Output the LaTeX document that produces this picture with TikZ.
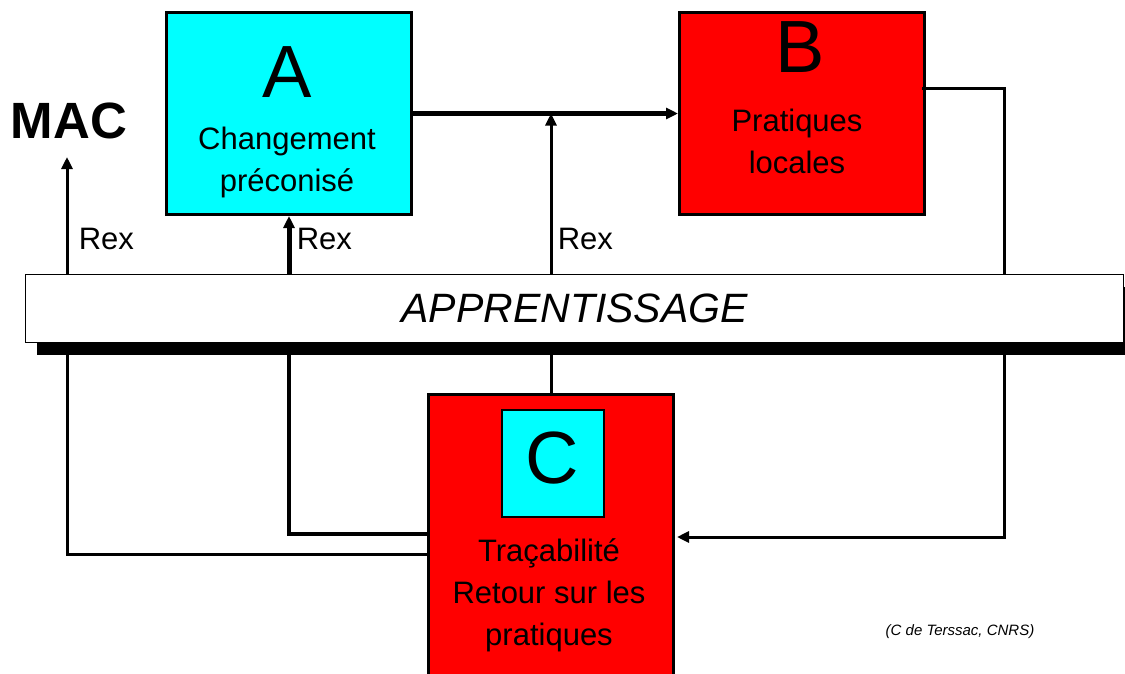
\documentclass[tikz,border=0pt]{standalone}
\usepackage{fontspec}
\setmainfont{Liberation Sans}
\usetikzlibrary{arrows.meta,positioning}
\definecolor{boxcyan}{RGB}{0,255,255}
\definecolor{boxred}{RGB}{255,0,0}

\begin{document}
\begin{tikzpicture}[x=1pt, y=-1pt, line width=3pt, >={Triangle[length=12pt,width=11pt]},
    bloc/.style={draw, line width=3pt, inner sep=0pt, minimum width=245pt, minimum height=202pt, anchor=north west},
    bigletter/.style={font=\fontsize{74}{74}\selectfont},
    boxtext/.style={font=\fontsize{31}{42}\selectfont, align=center},
    rexlabel/.style={font=\fontsize{31}{31}\selectfont, anchor=west}]
    \useasboundingbox (0,0) rectangle (1125,673);

    % boxes
    \node[bloc, fill=boxcyan] (A) at (165,11) {};
    \node[bloc, fill=boxred] (B) at (678,11) {};
    \node[bloc, fill=boxred, minimum height=300pt] (C) at (427,393) {};
    \node[draw, line width=1.5pt, fill=boxcyan, minimum width=102pt, minimum height=107pt, anchor=north west] (Cin) at (501,409) {};

    \node[bigletter] (Alet) at (287,72) {A};
    \node[bigletter] (Blet) at (800,47) {B};
    \node[bigletter] (Clet) at (552,458) {C};
    \node[boxtext] (Atxt) at (287,162) {Changement\\préconisé};
    \node[boxtext] (Btxt) at (797,141) {Pratiques\\locales};
    \node[boxtext] (Ctxt) at (549,595) {Traçabilité\\Retour sur les\\pratiques};

    \node[font=\bfseries\fontsize{51}{51}\selectfont] (mac) at (69,121) {MAC};

    % junction points
    \coordinate (macin) at (67,157);
    \coordinate (Bout) at (922,88);
    \coordinate (corner) at (1004,88);
    \coordinate (retB) at (677,537);
    \coordinate (loopL) at (427,554);
    \coordinate (loopA) at (427,534);
    \coordinate (barN) at (0,274);
    \coordinate (barS) at (0,342);

    % connectors
    \draw[->, line width=5pt] (A.east) -- (B.west);
    \draw[->] (barN -| C.north) -- (A.east -| C.north);
    \draw (barS -| C.north) -- (C.north);
    \draw[->, line width=5pt] (barN -| A.south) -- (A.south);
    \draw[line width=4pt] (barS -| A.south) |- (loopA);
    \draw[->] (barN -| macin) -- (macin);
    \draw (barS -| macin) |- (loopL);
    \draw[->] (Bout) -- (corner) |- (retB);

    % learning bar
    \fill (37,287) rectangle (1130,355);
    \node[draw, line width=1.2pt, fill=white, minimum width=1098pt, minimum height=68pt, anchor=north west,
        font=\itshape\fontsize{41}{41}\selectfont] (app) at (25,274) {APPRENTISSAGE};

    \node[rexlabel] (rex1) at (74,239) {Rex};
    \node[rexlabel] (rex2) at (292,239) {Rex};
    \node[rexlabel] (rex3) at (553,239) {Rex};

    \node[font=\itshape\fontsize{15}{15}\selectfont] (src) at (960,632) {(C de Terssac, CNRS)};
\end{tikzpicture}
\end{document}
